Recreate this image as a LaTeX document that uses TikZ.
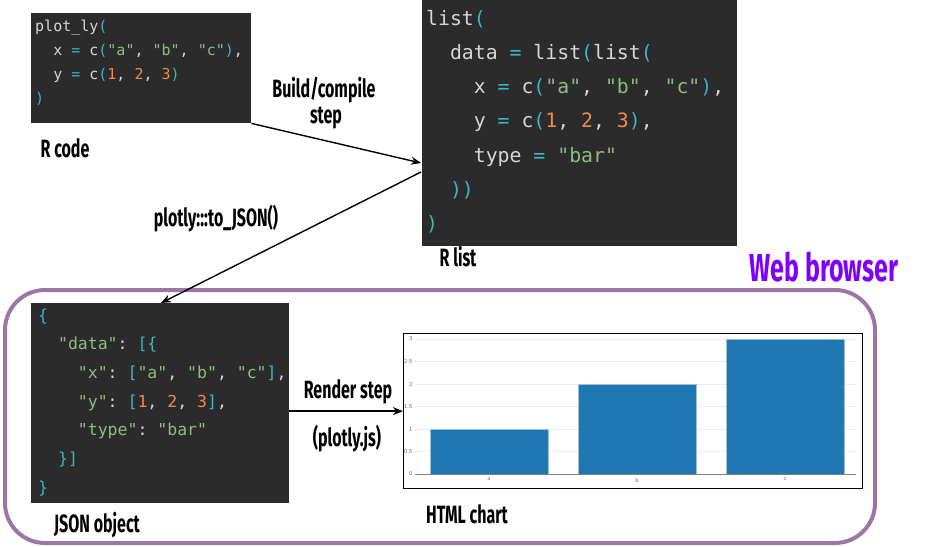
\documentclass[tikz,border=0pt]{standalone}
\usepackage{fontspec}
\setmonofont{DejaVu Sans Mono}
\newfontfamily\labfont[FakeStretch=0.64]{Fira Sans}
\newfontfamily\webfont[FakeStretch=0.64]{Fira Sans}
\usetikzlibrary{arrows.meta}
\definecolor{codebg}{HTML}{2B2B2B}
\definecolor{cgrey}{HTML}{D6D6D6}
\definecolor{ccyan}{HTML}{3DB5C2}
\definecolor{cgreen}{HTML}{8DBE7E}
\definecolor{corange}{HTML}{EE8A4A}
\definecolor{framec}{HTML}{9B77A8}
\definecolor{webc}{HTML}{8000FF}
\definecolor{barblue}{HTML}{1F77B4}
\newcommand\kP[1]{\textcolor{ccyan}{#1}}
\newcommand\kS[1]{\textcolor{cgreen}{#1}}
\newcommand\kN[1]{\textcolor{corange}{#1}}
\begin{document}
\begin{tikzpicture}[x=1pt,y=-1pt,
  codebox/.style={fill=codebg, draw=none, anchor=north west, inner sep=0pt},
  codeA/.style={anchor=base west, inner sep=0pt, text=cgrey, font=\ttfamily\fontsize{15}{15}\selectfont\frenchspacing},
  codeB/.style={anchor=base west, inner sep=0pt, text=cgrey, font=\ttfamily\fontsize{19.8}{20}\selectfont\frenchspacing},
  codeC/.style={anchor=base west, inner sep=0pt, text=cgrey, font=\ttfamily\fontsize{16.5}{17}\selectfont\frenchspacing},
  lab/.style={anchor=base, inner sep=0pt, font=\labfont\bfseries\fontsize{25}{26}\selectfont},
  arr/.style={draw=black, line width=1.4pt, -{Stealth[length=10pt,width=8pt]}},
  gridl/.style={draw=black!7, line width=0.6pt},
  ticklab/.style={anchor=east, inner sep=0pt, text=black!60, font=\sffamily\fontsize{6}{6}\selectfont},
  bar/.style={fill=barblue, draw=barblue!45!white, line width=0.7pt}]
\useasboundingbox (0,0) rectangle (933,546);

% Web browser frame
\node[draw=framec, line width=4pt, rounded corners=40pt, minimum width=870pt, minimum height=253pt, anchor=north west, inner sep=0pt] (web) at (3,288) {};
\node[anchor=base, inner sep=0pt, text=webc, font=\webfont\bfseries\fontsize{39}{40}\selectfont] (weblab) at (824,281) {Web browser};

% R code box
\node[codebox, minimum width=220pt, minimum height=110pt] (rcode) at (31,13) {};
\node[codeA] (rc1) at (35,31) {plot\char"5F ly\kP{(}};
\node[codeA] (rc2) at (35,55) {~~x \kP{=} c\kP{(}\kS{"a"}, \kS{"b"}, \kS{"c"}\kP{)},};
\node[codeA] (rc3) at (35,79) {~~y \kP{=} c\kP{(}\kN{1}, \kN{2}, \kN{3}\kP{)}};
\node[codeA] (rc4) at (35,103) {\kP{)}};
\node[lab] (rcodelab) at (65,157) {R code};

% R list box
\node[codebox, minimum width=315pt, minimum height=246pt] (rlist) at (422,0) {};
\node[codeB] (rl1) at (426,25) {list\kP{(}};
\node[codeB] (rl2) at (426,59.3) {~~data \kP{=} list\kP{(}list\kP{(}};
\node[codeB] (rl3) at (426,93.6) {~~~~x \kP{=} c\kP{(}\kS{"a"}, \kS{"b"}, \kS{"c"}\kP{)},};
\node[codeB] (rl4) at (426,127.9) {~~~~y \kP{=} c\kP{(}\kN{1}, \kN{2}, \kN{3}\kP{)},};
\node[codeB] (rl5) at (426,162.2) {~~~~type \kP{=} \kS{"bar"}};
\node[codeB] (rl6) at (426,196.5) {~~\kP{))}};
\node[codeB] (rl7) at (426,230.8) {\kP{)}};
\node[lab] (rlistlab) at (458,266) {R list};

% JSON box
\node[codebox, minimum width=258pt, minimum height=200pt] (json) at (31,303) {};
\node[codeC] (j1) at (38,321) {\kP{\{}};
\node[codeC] (j2) at (38,349.7) {~~\kS{"data"}: \kP{[\{}};
\node[codeC] (j3) at (38,378.4) {~~~~\kS{"x"}: \kP{[}\kS{"a"}, \kS{"b"}, \kS{"c"}\kP{]},};
\node[codeC] (j4) at (38,407.1) {~~~~\kS{"y"}: \kP{[}\kN{1}, \kN{2}, \kN{3}\kP{]},};
\node[codeC] (j5) at (38,435.8) {~~~~\kS{"type"}: \kS{"bar"}};
\node[codeC] (j6) at (38,464.5) {~~\kP{\}]}};
\node[codeC] (j7) at (38,493.2) {\kP{\}}};
\node[lab] (jsonlab) at (97,532) {JSON object};

% HTML chart
\node[draw=black, line width=1.3pt, minimum width=459pt, minimum height=155pt, anchor=north west, inner sep=0pt] (chart) at (403,333) {};
\foreach \v in {0.5,1,1.5,2,2.5,3} {
  \draw[gridl] (415,474-45*\v) -- (856,474-45*\v);
}
\foreach \v/\t in {0/0,0.5/0.5,1/1,1.5/1.5,2/2,2.5/2.5,3/3} {
  \node[ticklab] at (412.5,474-45*\v) {\t};
}
\draw[bar] (430,474) rectangle (548,429);
\draw[bar] (578,474) rectangle (696,384);
\draw[bar] (726,474) rectangle (844,339);
\draw[draw=black!50, line width=0.8pt] (415,474) -- (856,474);
\node[ticklab, anchor=north] at (489,478) {a};
\node[ticklab, anchor=north] at (637,478) {b};
\node[ticklab, anchor=north] at (785,478) {c};
\node[lab] (chartlab) at (467,523) {HTML chart};

% step labels
\node[lab] (build1) at (324,97) {Build/compile};
\node[lab] (build2) at (326,123) {step};
\node[lab] (tojson) at (216,226) {plotly:::to\textunderscore JSON()};
\node[lab] (render1) at (348,398) {Render step};
\node[lab] (render2) at (347,446) {(plotly.js)};

% connectors
\coordinate (a1end) at (421,163);
\coordinate (a2start) at (421,172);
\coordinate (a2end) at (161,303);
\draw[arr] (rcode.south east) -- (a1end);
\draw[arr] (a2start) -- (a2end);
\draw[arr] (json.east |- chart.west) -- (chart.west);
\end{tikzpicture}
\end{document}
